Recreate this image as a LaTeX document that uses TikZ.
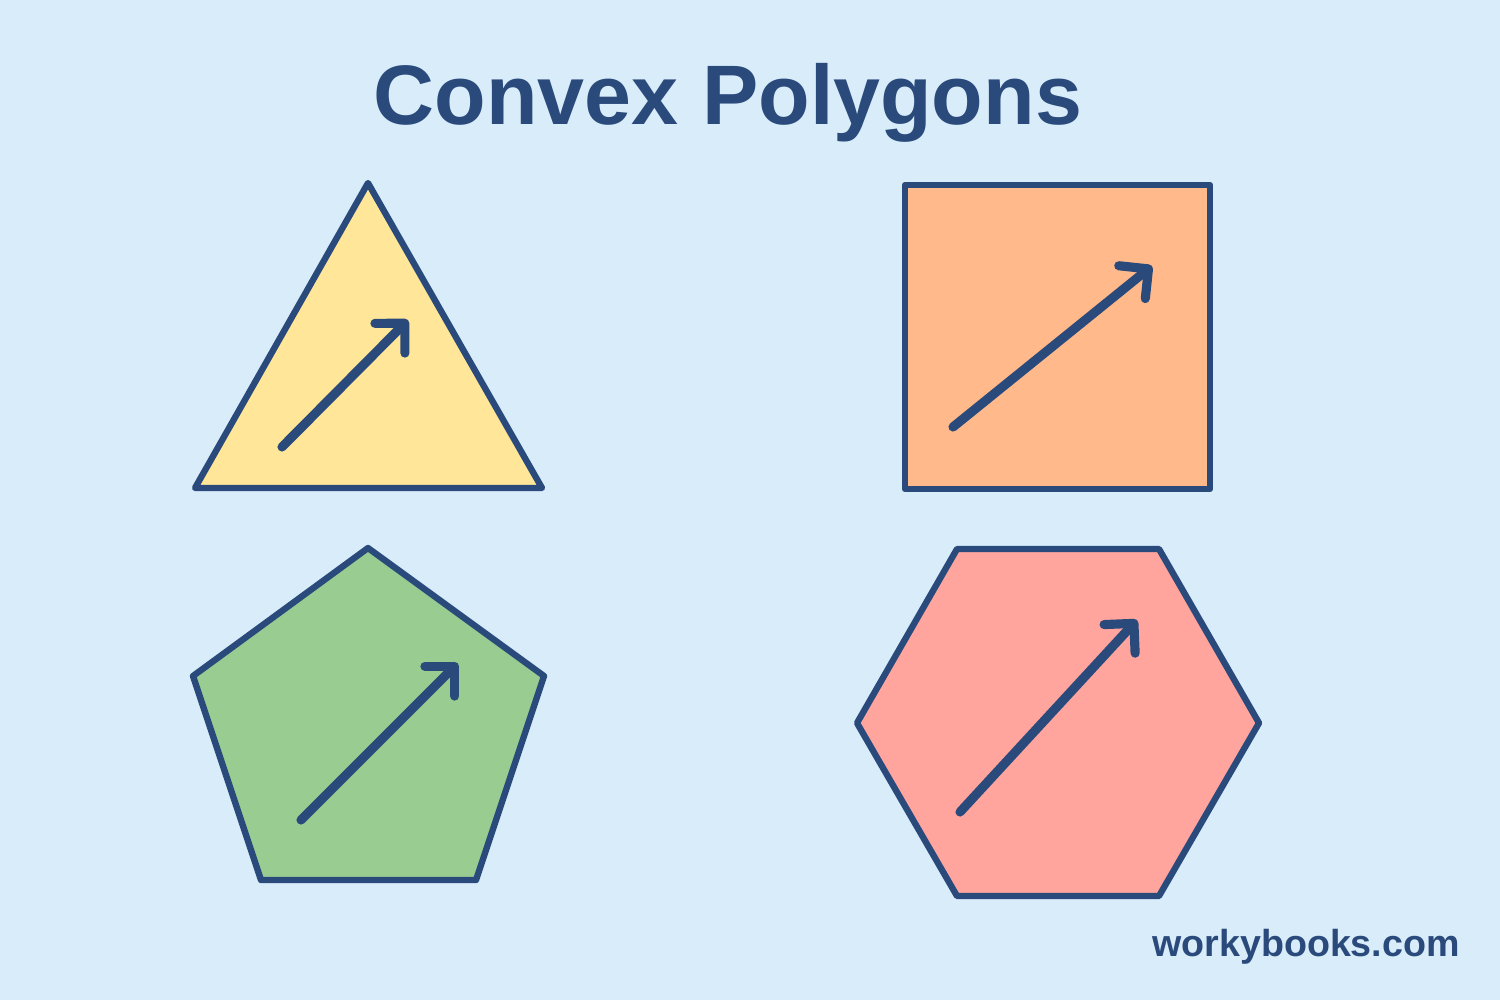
\documentclass[tikz,border=0pt]{standalone}
\usepackage{fontspec}
\setmainfont{Liberation Sans}
\usetikzlibrary{arrows.meta}
\definecolor{bgblue}{HTML}{D8ECF9}
\definecolor{inkblue}{HTML}{2A4A7C}
\definecolor{triyellow}{HTML}{FFE699}
\definecolor{sqorange}{HTML}{FFB98A}
\definecolor{pentgreen}{HTML}{99CC91}
\definecolor{hexpink}{HTML}{FFA59E}
\tikzset{>={Straight Barb[length=6pt,width=12pt,round]}}
\tikzset{polygon/.style={draw=inkblue, line width=1.8pt, line join=round},
         arrowline/.style={->, draw=inkblue, line width=2.6pt, line cap=round}}

\begin{document}
\begin{tikzpicture}[x=0.01cm,y=-0.01cm]
    \fill[bgblue] (0,0) rectangle (1500,1000);
    \useasboundingbox (0,0) rectangle (1500,1000);
    % title
    \node[text=inkblue, font=\fontsize{24}{28}\selectfont\bfseries] (title) at (728,103) {Convex Polygons};
    % triangle
    \draw[polygon, fill=triyellow] (195,488) -- (368,183) -- (542,488) -- cycle;
    \coordinate (t1) at (282,447);
    \coordinate (t2) at (408,320);
    \draw[arrowline] (t1) -- (t2);
    % square
    \draw[polygon, fill=sqorange] (905,185) rectangle (1210,489);
    \coordinate (s1) at (953,427);
    \coordinate (s2) at (1152,266);
    \draw[arrowline] (s1) -- (s2);
    % pentagon
    \draw[polygon, fill=pentgreen] (368,548) -- (544,676) -- (476,880) -- (261,880) -- (193,676) -- cycle;
    \coordinate (p1) at (301,820);
    \coordinate (p2) at (458,663);
    \draw[arrowline] (p1) -- (p2);
    % hexagon
    \draw[polygon, fill=hexpink] (857,723) -- (957,549) -- (1159,549) -- (1259,723) -- (1159,896) -- (957,896) -- cycle;
    \coordinate (h1) at (960,812);
    \coordinate (h2) at (1137,620);
    \draw[arrowline] (h1) -- (h2);
    % footer
    \node[text=inkblue, font=\fontsize{10.7}{13}\selectfont\bfseries] (site) at (1306,947) {workybooks.com};
\end{tikzpicture}
\end{document}
